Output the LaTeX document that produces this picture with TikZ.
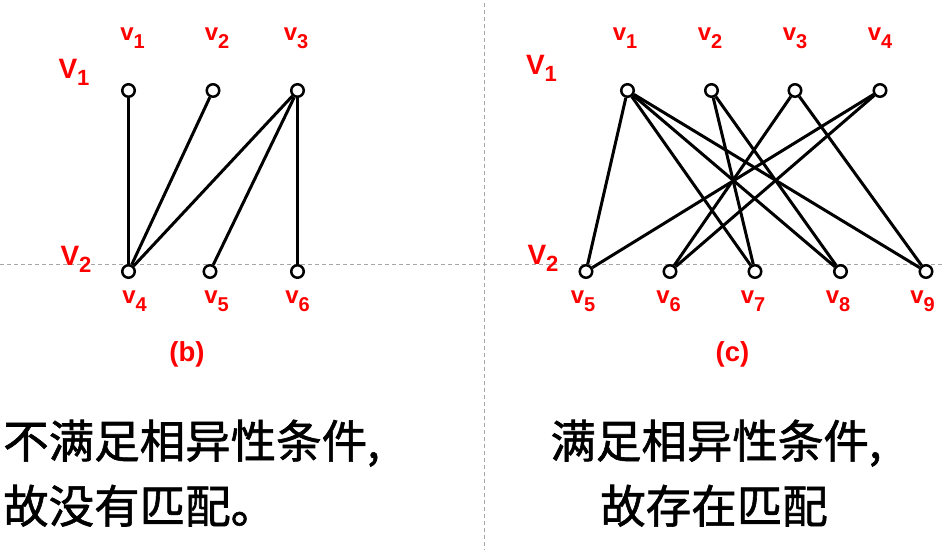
\documentclass[tikz,border=0pt]{standalone}
\usepackage{fontspec}
\setsansfont{Liberation Sans}
\newfontfamily\cjk[FakeBold=1.3]{Noto Sans CJK SC}

% vertex label with subscript
\newcommand{\vsub}[2]{{\fontsize{24}{24}\selectfont #1}\raisebox{-8pt}{\fontsize{20}{20}\selectfont #2}}
\newcommand{\Vsub}[1]{{\fontsize{28}{28}\selectfont V}\raisebox{-7pt}{\fontsize{22}{22}\selectfont #1}}

\begin{document}
\begin{tikzpicture}[
  x=1pt, y=-1pt,
  font=\sffamily\bfseries,
  vert/.style={circle, draw, line width=2.5pt, minimum size=12.5pt, inner sep=0pt, fill=white},
  lbl/.style={text=red, inner sep=0pt, anchor=base},
  edge/.style={line width=3pt},
  guide/.style={draw=gray!70, line width=0.9pt, dash pattern=on 4pt off 3pt},
  caption/.style={font=\cjk\fontsize{45.5}{45.5}\selectfont, inner sep=0pt}
]

\useasboundingbox (0,0) rectangle (945,550);

% guide lines
\draw[guide] (0,264) -- (945,264);
\draw[guide] (484,3) -- (484,550);

% (b)
\node[vert] (b1) at (128.5,90.5) {};
\node[vert] (b2) at (213,90.5) {};
\node[vert] (b3) at (297.5,90.5) {};
\node[vert] (b4) at (128.5,271.5) {};
\node[vert] (b5) at (210,271.5) {};
\node[vert] (b6) at (297.5,271.5) {};

\draw[edge] (b1) -- (b4);
\draw[edge] (b2) -- (b4);
\draw[edge] (b3) -- (b4);
\draw[edge] (b3) -- (b5);
\draw[edge] (b3) -- (b6);

\node[lbl] (lb1) at (132.5,40.5) {\vsub{v}{1}};
\node[lbl] (lb2) at (217,40.5) {\vsub{v}{2}};
\node[lbl] (lb3) at (296,40.5) {\vsub{v}{3}};
\node[lbl] (lb4) at (134.5,303.5) {\vsub{v}{4}};
\node[lbl] (lb5) at (216.5,303.5) {\vsub{v}{5}};
\node[lbl] (lb6) at (297.5,303.5) {\vsub{v}{6}};
\node[lbl] (bV1) at (74,78.5) {\Vsub{1}};
\node[lbl] (bV2) at (76,265.5) {\Vsub{2}};
\node[lbl, font=\sffamily\bfseries\fontsize{27.5}{27.5}\selectfont] (bcap) at (187,361.5) {(b)};

% (c)
\node[vert] (c1) at (627.5,90.5) {};
\node[vert] (c2) at (711.5,90.5) {};
\node[vert] (c3) at (795,90.5) {};
\node[vert] (c4) at (880,90.5) {};
\node[vert] (c5) at (586,271.5) {};
\node[vert] (c6) at (670,271.5) {};
\node[vert] (c7) at (755,271.5) {};
\node[vert] (c8) at (840.5,271.5) {};
\node[vert] (c9) at (926,271.5) {};

\draw[edge] (c1) -- (c5);
\draw[edge] (c1) -- (c7);
\draw[edge] (c1) -- (c8);
\draw[edge] (c1) -- (c9);
\draw[edge] (c2) -- (c7);
\draw[edge] (c2) -- (c8);
\draw[edge] (c3) -- (c6);
\draw[edge] (c3) -- (c9);
\draw[edge] (c4) -- (c5);
\draw[edge] (c4) -- (c6);

\node[lbl] (lc1) at (625,40) {\vsub{v}{1}};
\node[lbl] (lc2) at (710,40) {\vsub{v}{2}};
\node[lbl] (lc3) at (795,40) {\vsub{v}{3}};
\node[lbl] (lc4) at (880,40) {\vsub{v}{4}};
\node[lbl] (lc5) at (583,303.5) {\vsub{v}{5}};
\node[lbl] (lc6) at (668.5,303.5) {\vsub{v}{6}};
\node[lbl] (lc7) at (753,303.5) {\vsub{v}{7}};
\node[lbl] (lc8) at (838,303.5) {\vsub{v}{8}};
\node[lbl] (lc9) at (922.5,303.5) {\vsub{v}{9}};
\node[lbl] (cV1) at (541.5,74) {\Vsub{1}};
\node[lbl] (cV2) at (543,264) {\Vsub{2}};
\node[lbl, font=\sffamily\bfseries\fontsize{27.5}{27.5}\selectfont] (ccap) at (732.5,361.5) {(c)};

% conclusions
\node[caption, anchor=base west] (bnote1) at (3,458) {不满足相异性条件,};
\node[caption, anchor=base west] (bnote2) at (3,523) {故没有匹配。};
\node[caption, anchor=base] (cnote1) at (716,458) {满足相异性条件,};
\node[caption, anchor=base] (cnote2) at (714,523) {故存在匹配};

\end{tikzpicture}
\end{document}
